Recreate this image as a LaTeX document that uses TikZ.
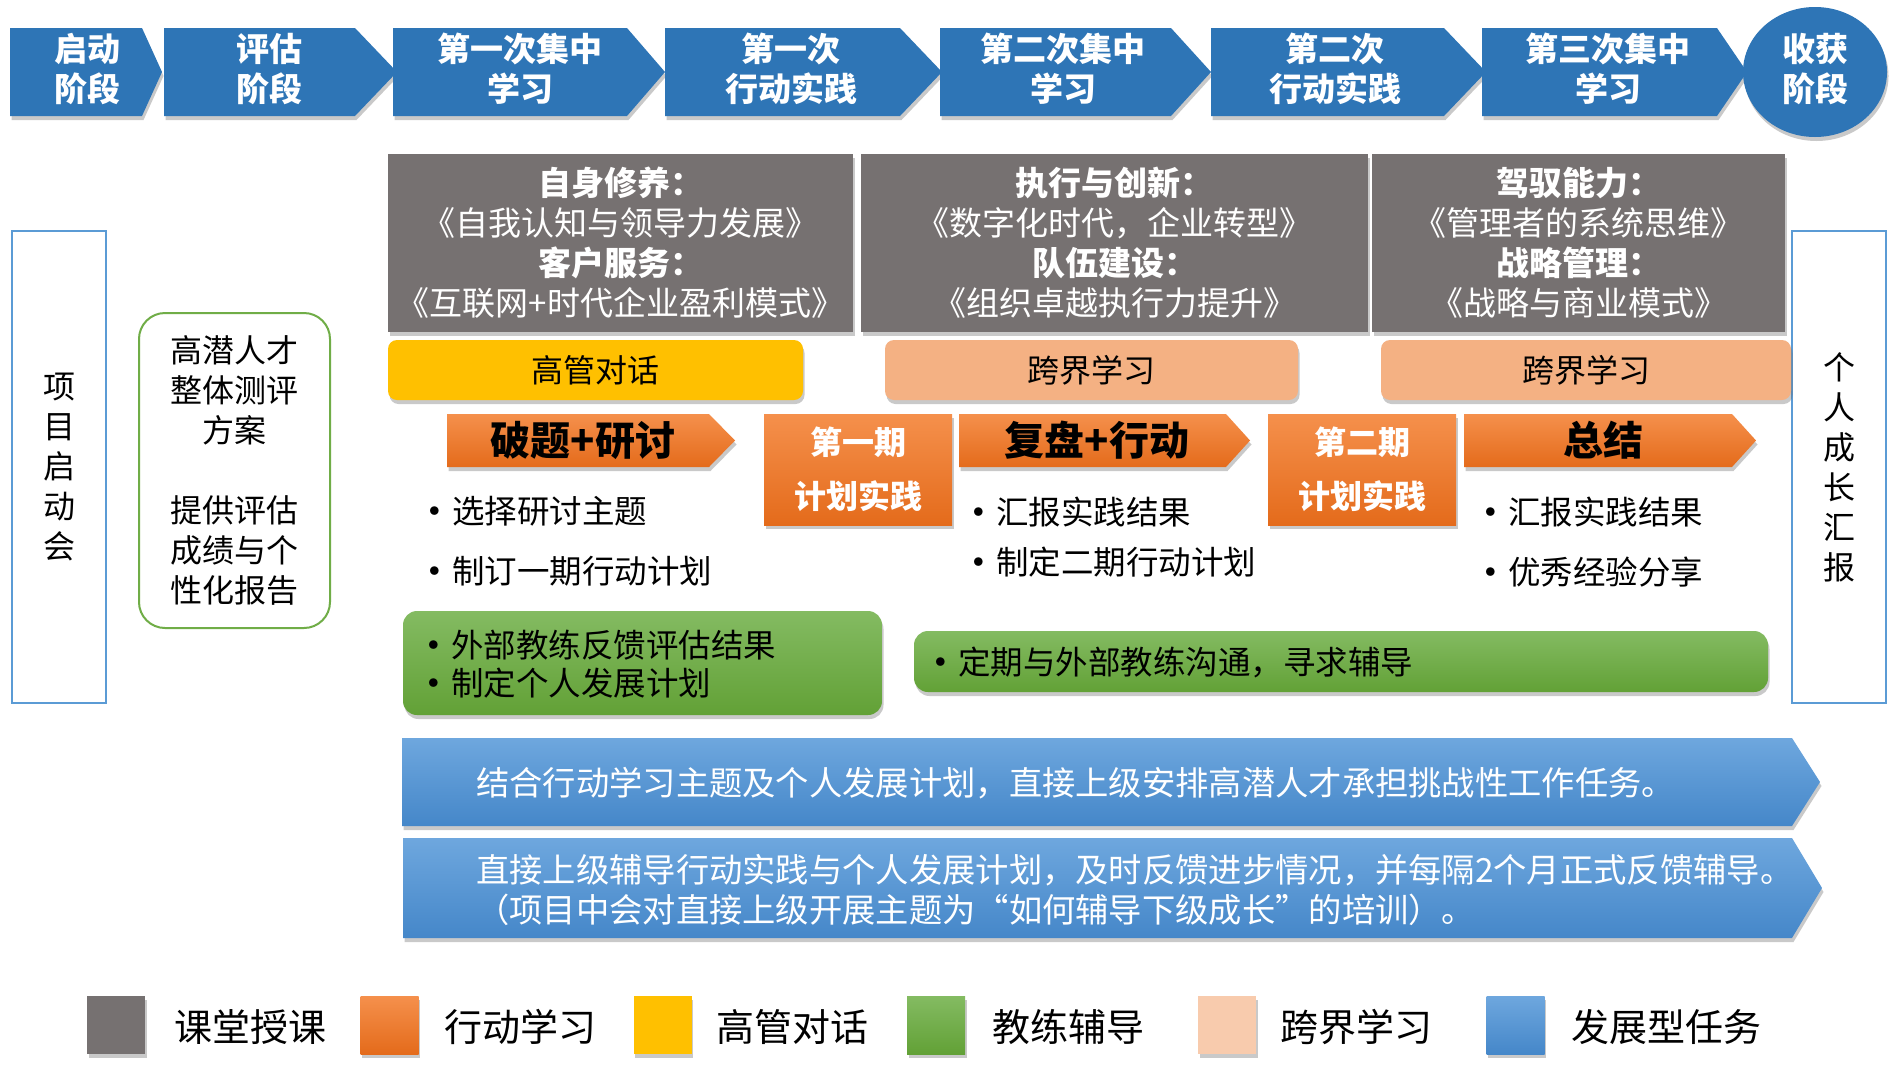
\documentclass[tikz,border=0pt]{standalone}
\usepackage{fontspec}
\setmainfont{Noto Sans CJK SC}
\usetikzlibrary{shadows,shapes.geometric}
\definecolor{topblue}{HTML}{2E75B6}
\definecolor{lecgray}{HTML}{767171}
\definecolor{gold}{HTML}{FFC000}
\definecolor{peach}{HTML}{F4B183}
\definecolor{peachlight}{HTML}{F8CBAD}
\definecolor{orgtop}{HTML}{F5904C}
\definecolor{orgbot}{HTML}{E46B1B}
\definecolor{grntop}{HTML}{84BB62}
\definecolor{grnbot}{HTML}{62A136}
\definecolor{blutop}{HTML}{6EA7DE}
\definecolor{blubot}{HTML}{4587C9}
\definecolor{frameblue}{HTML}{5B9BD5}
\definecolor{framegreen}{HTML}{70AD47}
\newcommand\fsz[2]{\fontsize{#1pt}{#2pt}\selectfont}
\newcommand\bul{\makebox[38pt][l]{\raisebox{-3pt}{\scalebox{1.25}{•}}}}
\tikzset{
  shd/.style={drop shadow={shadow xshift=1.5pt,shadow yshift=-4pt,opacity=0.35,fill=black!60}},
  phase/.style={fill=topblue,shd},
  phasetxt/.style={text=white,font=\fsz{33}{40}\bfseries,align=center,inner sep=0pt},
  lecture/.style={fill=lecgray,shd,inner sep=0pt,text=white,align=center,font=\fsz{33}{40}},
  talkbox/.style={rounded corners=9pt,shd,inner sep=0pt,font=\fsz{32}{40}},
  actpenta/.style={top color=orgtop,bottom color=orgbot,shd},
  actbox/.style={top color=orgtop,bottom color=orgbot,shd,inner sep=0pt,text=white,align=center,font=\fsz{32}{54}\bfseries},
  pentatxt/.style={inner sep=0pt,font=\fsz{40}{44}\bfseries},
  bullettxt/.style={inner sep=0pt,anchor=west,align=left,font=\fsz{32.5}{38}},
  coachbox/.style={top color=grntop,bottom color=grnbot,rounded corners=14pt,shd},
  taskarrow/.style={top color=blutop,bottom color=blubot,shd},
  tasktxt/.style={inner sep=0pt,anchor=west,align=left,text=white,font=\fsz{33.3}{40}},
  sideframe/.style={draw=frameblue,line width=2pt,fill=white,inner sep=0pt,align=center,font=\fsz{32}{40}},
  legsq/.style={minimum width=58pt,minimum height=58pt,inner sep=0pt,shd},
  legtxt/.style={inner sep=0pt,anchor=west,font=\fsz{38}{44}},
}
\begin{document}
\begin{tikzpicture}[x=1pt,y=-1pt]
\useasboundingbox[fill=white] (0,0) rectangle (1900,1071);
% ---- top phases
\path[phase] (10,28) -- (142,28) -- (162,72) -- (142,116) -- (10,116) -- cycle;
\path[phase] (164,28) -- (355,28) -- (397,72) -- (355,116) -- (164,116) -- cycle;
\path[phase] (393,28) -- (627,28) -- (665,72) -- (627,116) -- (393,116) -- cycle;
\path[phase] (665,28) -- (900,28) -- (942,72) -- (900,116) -- (665,116) -- cycle;
\path[phase] (940,28) -- (1171,28) -- (1211,72) -- (1171,116) -- (940,116) -- cycle;
\path[phase] (1211,28) -- (1444,28) -- (1486,72) -- (1444,116) -- (1211,116) -- cycle;
\path[phase] (1482,28) -- (1717,28) -- (1747,72) -- (1717,116) -- (1482,116) -- cycle;
\path[phase] (1815,72) ellipse [x radius=72, y radius=65];
\node[phasetxt] (ph1) at (87,69) {启动\\阶段};
\node[phasetxt] (ph2) at (269,69) {评估\\阶段};
\node[phasetxt] (ph3) at (520,69) {第一次集中\\学习};
\node[phasetxt] (ph4) at (791,69) {第一次\\行动实践};
\node[phasetxt] (ph5) at (1063,69) {第二次集中\\学习};
\node[phasetxt] (ph6) at (1335,69) {第二次\\行动实践};
\node[phasetxt] (ph7) at (1608,69) {第三次集中\\学习};
\node[phasetxt] (ph8) at (1815,69) {收获\\阶段};
% ---- side frames
\node[sideframe,minimum width=94pt,minimum height=472pt] (kick) at (59,467) {项\\目\\启\\动\\会};
\node[sideframe,minimum width=94pt,minimum height=472pt] (report) at (1839,467) {个\\人\\成\\长\\汇\\报};
\node[sideframe,draw=framegreen,rounded corners=26pt,minimum width=191pt,minimum height=315pt] (assess) at (234.5,470.5)
  {高潜人才\\整体测评\\方案\\[40pt]提供评估\\成绩与个\\性化报告};
% ---- lectures
\node[lecture,minimum width=465pt,minimum height=178pt] (lec1) at (620.5,243)
  {\textbf{自身修养：}\\《自我认知与领导力发展》\\\textbf{客户服务：}\\《互联网+时代企业盈利模式》};
\node[lecture,minimum width=507pt,minimum height=178pt] (lec2) at (1114.5,243)
  {\textbf{执行与创新：}\\《数字化时代，企业转型》\\\textbf{队伍建设：}\\《组织卓越执行力提升》};
\node[lecture,minimum width=413pt,minimum height=178pt] (lec3) at (1578.5,243)
  {\textbf{驾驭能力：}\\《管理者的系统思维》\\\textbf{战略管理：}\\《战略与商业模式》};
% ---- talks / cross learning
\node[talkbox,fill=gold,minimum width=415pt,minimum height=60pt] (talk) at (595.5,370) {高管对话};
\node[talkbox,fill=peach,minimum width=413pt,minimum height=60pt] (cross1) at (1091.5,370) {跨界学习};
\node[talkbox,fill=peach,minimum width=410pt,minimum height=60pt] (cross2) at (1586,370) {跨界学习};
% ---- action learning
\path[actpenta] (447,414) -- (709,414) -- (735,440.5) -- (709,467) -- (447,467) -- cycle;
\path[actpenta] (959,414) -- (1226,414) -- (1250,440.5) -- (1226,467) -- (959,467) -- cycle;
\path[actpenta] (1464,414) -- (1732,414) -- (1756,440.5) -- (1732,467) -- (1464,467) -- cycle;
\node[pentatxt] (act1) at (583,440) {破题+研讨};
\node[pentatxt] (act2) at (1097,440) {复盘+行动};
\node[pentatxt] (act3) at (1603,440) {总结};
\node[actbox,minimum width=188pt,minimum height=111pt] (plan1) at (858,469.5) {第一期\\计划实践};
\node[actbox,minimum width=188pt,minimum height=111pt] (plan2) at (1362,469.5) {第二期\\计划实践};
% ---- bullets
\node[bullettxt] (b1) at (414,511) {\bul 选择研讨主题};
\node[bullettxt] (b2) at (414,571) {\bul 制订一期行动计划};
\node[bullettxt] (b3) at (958,512) {\bul 汇报实践结果};
\node[bullettxt] (b4) at (958,562) {\bul 制定二期行动计划};
\node[bullettxt] (b5) at (1470,512) {\bul 汇报实践结果};
\node[bullettxt] (b6) at (1470,572) {\bul 优秀经验分享};
% ---- coaching
\path[coachbox] (403,611) rectangle (882,715);
\path[coachbox] (914,631) rectangle (1768,692);
\node[bullettxt] (c1) at (413,664) {\bul 外部教练反馈评估结果\\\bul 制定个人发展计划};
\node[bullettxt] (c2) at (920,662) {\bul 定期与外部教练沟通，寻求辅导};
% ---- development tasks
\path[taskarrow] (402,738) -- (1792,738) -- (1820,782) -- (1792,826) -- (402,826) -- cycle;
\path[taskarrow] (403,838) -- (1792,838) -- (1822,888) -- (1792,938) -- (403,938) -- cycle;
\node[tasktxt] (t1) at (476,783) {结合行动学习主题及个人发展计划，直接上级安排高潜人才承担挑战性工作任务。};
\node[tasktxt] (t2) at (476,890) {直接上级辅导行动实践与个人发展计划，及时反馈进步情况，并每隔2个月正式反馈辅导。\\（项目中会对直接上级开展主题为“如何辅导下级成长”的培训）。};
% ---- legend
\node[legsq,fill=lecgray] (lg1) at (116,1025) {};
\node[legsq,top color=orgtop,bottom color=orgbot] (lg2) at (389.5,1025) {};
\node[legsq,fill=gold] (lg3) at (662.5,1025) {};
\node[legsq,top color=grntop,bottom color=grnbot] (lg4) at (936,1025) {};
\node[legsq,fill=peachlight] (lg5) at (1227,1025) {};
\node[legsq,top color=blutop,bottom color=blubot] (lg6) at (1515.5,1025) {};
\node[legtxt] (lt1) at (174,1027) {课堂授课};
\node[legtxt] (lt2) at (444,1027) {行动学习};
\node[legtxt] (lt3) at (716,1027) {高管对话};
\node[legtxt] (lt4) at (992,1027) {教练辅导};
\node[legtxt] (lt5) at (1280,1027) {跨界学习};
\node[legtxt] (lt6) at (1571,1027) {发展型任务};
\end{tikzpicture}
\end{document}
